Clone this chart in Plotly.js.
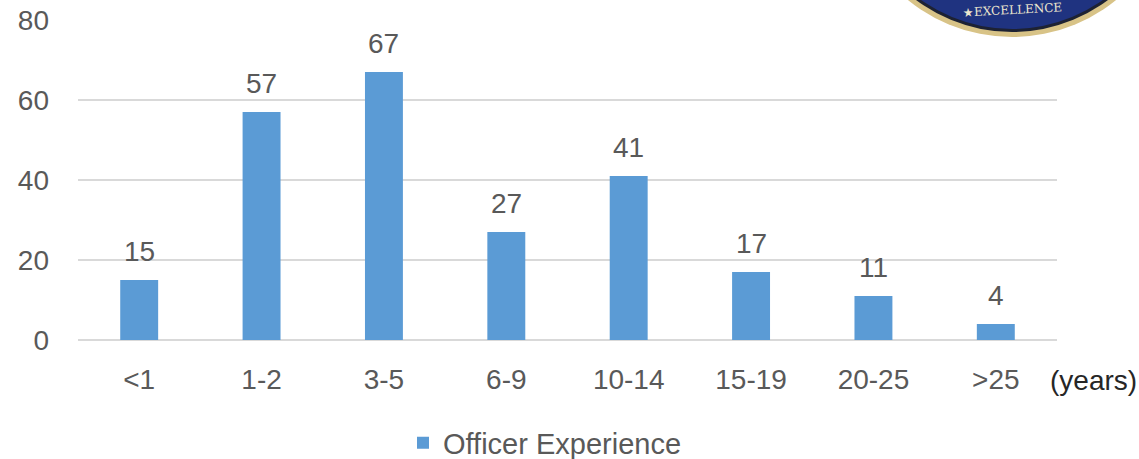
<!DOCTYPE html>
<html><head><meta charset="utf-8">
<script src="https://cdn.plot.ly/plotly-3.0.1.min.js"></script>
<style>html,body{margin:0;padding:0;background:#fff}</style>
</head><body>
<div id="chart" style="width:1139px;height:459px"></div>
<script>
var categories = ["<1","1-2","3-5","6-9","10-14","15-19","20-25",">25"];
var officerExperience = [15,57,67,27,41,17,11,4];
var yTicks = [0,20,40,60,80];
var seriesName = "Officer Experience";
var unitLabel = "(years)";

var W=1139,H=459, L=78, R=82, T=20, B=119;
var pw=W-L-R, ph=H-T-B;
function px(x){return (x-L)/pw;}
function py(y){return (H-B-y)/ph;}
var FONT = "Liberation Sans, Arial, sans-serif";
var GREY = "#595959";
var FS = 28;

var trace = {
  type:"bar", x:categories, y:officerExperience, name:seriesName,
  marker:{color:"#5B9BD5"}, hoverinfo:"x+y"
};
var ann = categories.map(function(c,i){
  return {x:c, y:officerExperience[i], xref:"x", yref:"y", text:String(officerExperience[i]),
    showarrow:false, yanchor:"bottom", yshift:11, font:{family:FONT,size:FS,color:GREY}};
});
ann.push({xref:"paper", yref:"paper", x:px(1093), y:py(380), text:unitLabel, showarrow:false,
  xanchor:"center", yanchor:"middle", font:{family:FONT,size:FS,color:"#262626"}});
ann.push({xref:"paper", yref:"paper", x:px(1012), y:py(10), text:"★EXCELLENCE", showarrow:false,
  xanchor:"center", yanchor:"middle", textangle:-3, font:{family:"DejaVu Serif, serif",size:12,color:"#ece6cf"}});

var shapes = [
  {type:"rect", xref:"paper", yref:"paper", x0:px(862), x1:px(1145), y0:py(50), y1:py(-5), fillcolor:"#ffffff", line:{width:0}, layer:"above"},
  {type:"circle", xref:"paper", yref:"paper", x0:px(1012-165), x1:px(1012+165), y0:py(37), y1:py(37-330), fillcolor:"#d8c387", line:{width:0}, layer:"above"},
  {type:"circle", xref:"paper", yref:"paper", x0:px(1012-160), x1:px(1012+160), y0:py(32), y1:py(32-320), fillcolor:"#1d2233", line:{width:0}, layer:"above"},
  {type:"circle", xref:"paper", yref:"paper", x0:px(1012-157), x1:px(1012+157), y0:py(29), y1:py(29-314), fillcolor:"#1f3380", line:{width:0}, layer:"above"}
];

var layout = {
  width:W, height:H, margin:{l:L,r:R,t:T,b:B,pad:0,autoexpand:false},
  paper_bgcolor:"#fff", plot_bgcolor:"#fff",
  font:{family:FONT, size:FS, color:GREY},
  bargap:0.69,
  showlegend:true,
  legend:{orientation:"h", x:px(545), xanchor:"center", y:py(443), yanchor:"middle",
    font:{family:FONT,size:29,color:GREY}, itemwidth:30},
  xaxis:{type:"category", showgrid:false, zeroline:false, showline:false, ticks:"",
    ticklabelstandoff:20, tickfont:{family:FONT,size:FS,color:GREY}},
  yaxis:{range:[0,80], tickvals:yTicks, showgrid:true, gridcolor:"#D9D9D9", gridwidth:1.5,
    zeroline:true, zerolinecolor:"#D9D9D9", zerolinewidth:1.5, showline:false, ticks:"",
    ticklabelstandoff:28, tickfont:{family:FONT,size:FS,color:GREY}},
  annotations:ann, shapes:shapes
};
Plotly.newPlot("chart",[trace],layout,{displayModeBar:false,staticPlot:true});
</script>
</body></html>
